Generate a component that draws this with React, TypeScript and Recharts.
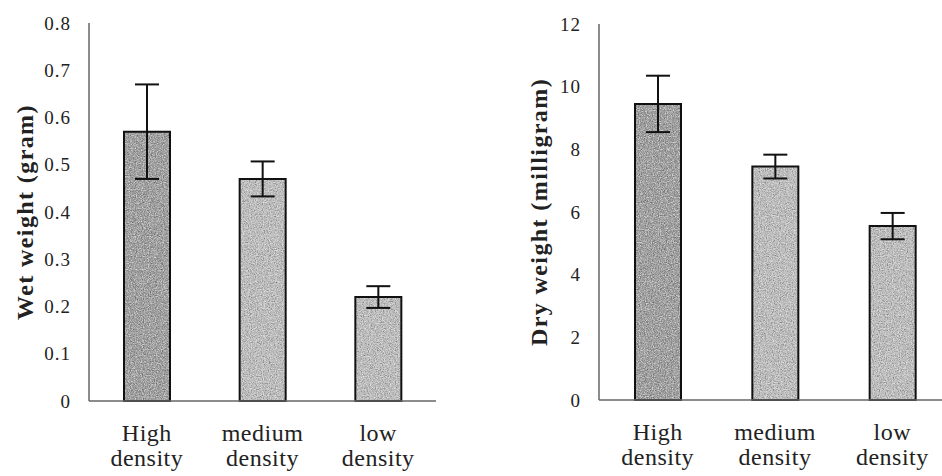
import { BarChart, Bar, XAxis, YAxis, ErrorBar, Cell } from 'recharts'

const categories = ['High density', 'medium density', 'low density']

// wet weight in grams, mean and standard error
const wetWeight = [0.57, 0.47, 0.22]
const wetError = [0.1, 0.037, 0.023]
const wetTicks = [0, 0.1, 0.2, 0.3, 0.4, 0.5, 0.6, 0.7, 0.8]

// dry weight in milligrams, mean and standard error
const dryWeight = [9.45, 7.45, 5.55]
const dryError = [0.9, 0.38, 0.42]
const dryTicks = [0, 2, 4, 6, 8, 10, 12]

const SERIF = "'Liberation Serif', 'Times New Roman', serif"
const AXIS = '#666'
const X_AXIS_HEIGHT = 30

const barFills = ['dark', 'light', 'light']

function buildRows(values: number[], errors: number[]) {
  return categories.map((name, i) => ({ name, value: values[i], err: errors[i] }))
}

function TwoLineTick(props: any) {
  const { x, y, payload } = props
  const [first, second] = String(payload.value).split(' ')
  return (
    <text x={x} y={y} textAnchor="middle" fontFamily={SERIF} fontSize={24} fill="#222" letterSpacing={0.5}>
      <tspan x={x} dy={40}>{first}</tspan>
      <tspan x={x} dy={25}>{second}</tspan>
    </text>
  )
}

function GrainDefs({ id, width, height }: { id: string; width: number; height: number }) {
  return (
    <defs>
      <filter id={`${id}-grain`} x="0" y="0" width="100%" height="100%">
        <feTurbulence type="fractalNoise" baseFrequency="0.85" numOctaves={2} seed={4} result="noise" />
        <feColorMatrix in="noise" type="matrix" values="0 0 0 0 0  0 0 0 0 0  0 0 0 0 0  1.4 0 0 0 -0.55" result="dark" />
        <feColorMatrix in="noise" type="matrix" values="0 0 0 0 1  0 0 0 0 1  0 0 0 0 1  0 1.4 0 0 -0.65" result="light" />
        <feMerge>
          <feMergeNode in="SourceGraphic" />
          <feMergeNode in="dark" />
          <feMergeNode in="light" />
        </feMerge>
      </filter>
      <pattern id={`${id}-dark`} patternUnits="userSpaceOnUse" width={width} height={height}>
        <rect width={width} height={height} fill="#a0a0a0" filter={`url(#${id}-grain)`} />
      </pattern>
      <pattern id={`${id}-light`} patternUnits="userSpaceOnUse" width={width} height={height}>
        <rect width={width} height={height} fill="#c2c2c2" filter={`url(#${id}-grain)`} />
      </pattern>
    </defs>
  )
}

interface PanelProps {
  id: string
  rows: { name: string; value: number; err: number }[]
  ticks: number[]
  title: string
  width: number
  axisWidth: number
  top: number
  baseline: number
  titleX: number
  left: number
}

function Panel({ id, rows, ticks, title, width, axisWidth, top, baseline, titleX, left }: PanelProps) {
  const height = 476
  return (
    <div style={{ position: 'absolute', left, top: 0 }}>
      <BarChart
        width={width}
        height={height}
        data={rows}
        margin={{ top, right: 0, bottom: height - baseline - X_AXIS_HEIGHT, left: 0 }}
        barCategoryGap={0}
      >
        <GrainDefs id={id} width={width} height={height} />
        <XAxis
          dataKey="name"
          height={X_AXIS_HEIGHT}
          tick={<TwoLineTick />}
          tickLine={false}
          tickSize={0}
          tickMargin={0}
          interval={0}
          stroke={AXIS}
          strokeWidth={1.5}
        />
        <YAxis
          width={axisWidth}
          domain={[ticks[0], ticks[ticks.length - 1]]}
          ticks={ticks}
          tickLine={false}
          tickSize={6}
          tickMargin={12}
          stroke={AXIS}
          strokeWidth={1.5}
          tick={{ fill: '#222', fontFamily: SERIF, fontSize: 19, letterSpacing: 1 }}
          label={() => (
            <text
              x={titleX}
              y={212}
              transform={`rotate(-90 ${titleX} 212)`}
              textAnchor="middle"
              dominantBaseline="central"
              fontFamily={SERIF}
              fontWeight="bold"
              fontSize={24}
              letterSpacing={1.4}
              fill="#222"
            >
              {title}
            </text>
          )}
        />
        <Bar dataKey="value" barSize={46} stroke="#111" strokeWidth={2} isAnimationActive={false}>
          {rows.map((r, i) => (
            <Cell key={r.name} fill={`url(#${id}-${barFills[i]})`} />
          ))}
          <ErrorBar dataKey="err" width={12} stroke="#111" strokeWidth={2} direction="y" />
        </Bar>
      </BarChart>
    </div>
  )
}

export default function App() {
  return (
    <div
      style={{
        position: 'absolute',
        left: 0,
        top: 0,
        width: 942,
        height: 476,
        overflow: 'hidden',
        background: '#fff',
      }}
    >
      <Panel
        id="wet"
        rows={buildRows(wetWeight, wetError)}
        ticks={wetTicks}
        title="Wet weight (gram)"
        width={436}
        axisWidth={89}
        top={23}
        baseline={401}
        titleX={25}
        left={0}
      />
      <Panel
        id="dry"
        rows={buildRows(dryWeight, dryError)}
        ticks={dryTicks}
        title="Dry weight (milligram)"
        width={481}
        axisWidth={129}
        top={24}
        baseline={400}
        titleX={69}
        left={470}
      />
    </div>
  )
}
